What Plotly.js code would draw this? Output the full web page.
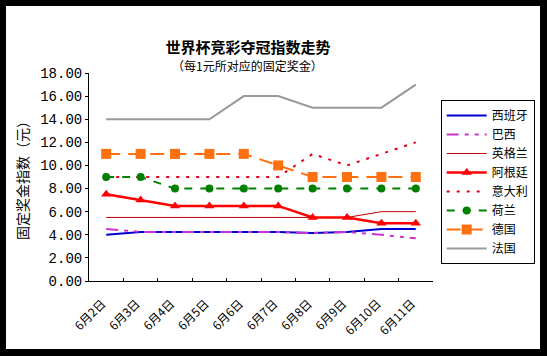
<!DOCTYPE html>
<html>
<head>
<meta charset="utf-8">
<script src="https://cdn.plot.ly/plotly-3.0.1.min.js"></script>
<style>
  html, body { margin: 0; padding: 0; background: #000; }
  #chart {
    box-sizing: content-box;
    width: 534px; height: 343px;
    border-style: solid; border-color: #000;
    border-width: 6px 7px 7px 6px;
    background: #fff;
  }
</style>
</head>
<body>
<div id="chart"></div>
<script>
const dates = ["6月2日","6月3日","6月4日","6月5日","6月6日","6月7日","6月8日","6月9日","6月10日","6月11日"];
const spain       = [4.0, 4.25, 4.25, 4.25, 4.25, 4.25, 4.15, 4.25, 4.5, 4.5];
const brazil      = [4.5, 4.25, 4.25, 4.25, 4.25, 4.25, 4.15, 4.25, 4.0, 3.7];
const england     = [5.5, 5.5, 5.5, 5.5, 5.5, 5.5, 5.5, 5.5, 6, 6];
const argentina   = [7.5, 7, 6.5, 6.5, 6.5, 6.5, 5.5, 5.5, 5, 5];
const italy       = [9, 9, 9, 9, 9, 9, 11, 10, 11, 12];
const netherlands = [9, 9, 8, 8, 8, 8, 8, 8, 8, 8];
const germany     = [11, 11, 11, 11, 11, 10, 9, 9, 9, 9];
const france      = [14, 14, 14, 14, 16, 16, 15, 15, 15, 17];

const seriesNames = ["西班牙","巴西","英格兰","阿根廷","意大利","荷兰","德国","法国"];

const CJK = '"Noto Sans CJK SC", "Noto Sans", sans-serif';

function tr(name, y, line, marker) {
  const t = { type: 'scatter', x: dates, y: y, name: name, line: line,
              mode: marker ? 'lines+markers' : 'lines', hoverinfo: 'skip' };
  if (marker) t.marker = marker;
  return t;
}

const data = [
  tr(seriesNames[0], spain,       { color: '#0000CC', width: 2 }),
  tr(seriesNames[1], brazil,      { color: '#CC33CC', width: 2, dash: '12px,6px,4px,6px,4px,6px' }),
  tr(seriesNames[2], england,     { color: '#C00000', width: 1 }),
  tr(seriesNames[3], argentina,   { color: '#FF0000', width: 2.5 }, { symbol: 'triangle-up', size: 9, color: '#FF0000' }),
  tr(seriesNames[4], italy,       { color: '#E0001A', width: 2, dash: '3px,7px' }),
  tr(seriesNames[5], netherlands, { color: '#008000', width: 2, dash: '8px,8px' }, { symbol: 'circle', size: 8, color: '#008000' }),
  tr(seriesNames[6], germany,     { color: '#FF7010', width: 2, dash: '14px,8px' }, { symbol: 'square', size: 10, color: '#FF7010' }),
  tr(seriesNames[7], france,      { color: '#999999', width: 2 })
];

const layout = {
  width: 534, height: 343,
  margin: { l: 83, r: 107, t: 67, b: 68, autoexpand: false },
  paper_bgcolor: '#fff', plot_bgcolor: '#fff',
  showlegend: true,
  title: {
    text: '<b>世界杯竞彩夺冠指数走势</b>',
    font: { family: CJK, size: 15, color: '#000' },
    xref: 'paper', x: 0.462, xanchor: 'center',
    yref: 'container', y: 0.877, yanchor: 'middle'
  },
  annotations: [{
    text: '（每1元所对应的固定奖金）',
    xref: 'paper', yref: 'paper', x: 0.462, y: 1.038,
    xanchor: 'center', yanchor: 'middle', showarrow: false,
    font: { family: CJK, size: 12, color: '#000' }
  }],
  xaxis: {
    type: 'category', range: [-0.5, 9.5],
    showgrid: false, zeroline: false,
    showline: true, linecolor: '#000', linewidth: 1,
    ticks: 'inside', ticklen: 3, tickcolor: '#000', tickson: 'boundaries',
    tickangle: -45, ticklabelstandoff: 10, ticklabelshift: -4,
    tickfont: { family: CJK, size: 12, color: '#000' }
  },
  yaxis: {
    range: [0, 18], dtick: 2, tick0: 0, tickformat: '.2f',
    showgrid: false, zeroline: false,
    showline: true, linecolor: '#000', linewidth: 1,
    ticks: 'outside', ticklen: 3, tickcolor: '#000',
    tickfont: { family: '"Liberation Mono", "DejaVu Sans Mono", monospace', size: 14, color: '#000' },
    title: { text: '固定奖金指数（元）', font: { family: CJK, size: 14, color: '#000' }, standoff: 8 }
  },
  legend: {
    x: 1.0224, xanchor: 'left', y: 0.87, yanchor: 'top',
    bordercolor: '#000', borderwidth: 1, bgcolor: '#fff',
    font: { family: CJK, size: 12, color: '#000' },
    itemwidth: 40, tracegroupgap: 0
  }
};

Plotly.newPlot('chart', data, layout, { staticPlot: true, displayModeBar: false });
</script>
</body>
</html>
